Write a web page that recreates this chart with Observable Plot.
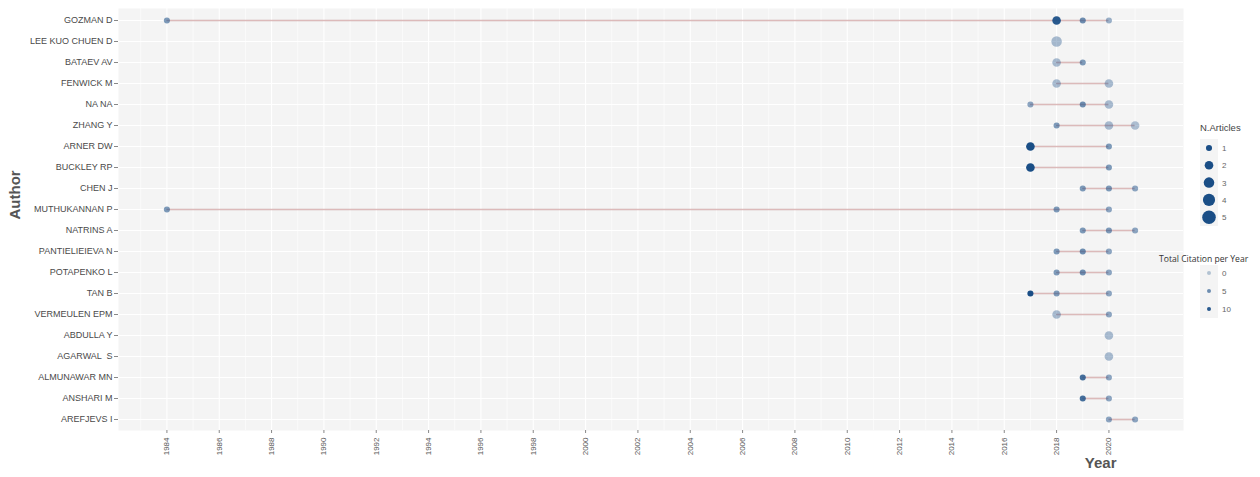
<!DOCTYPE html>
<html>
<head>
<meta charset="utf-8">
<script src="https://cdn.jsdelivr.net/npm/d3@7"></script>
<script src="https://cdn.jsdelivr.net/npm/@observablehq/plot@0.6"></script>
<style>
  html, body { margin: 0; padding: 0; background: #ffffff; }
  #wrap { position: relative; width: 1260px; height: 477px; }
  #legend { position: absolute; left: 0; top: 0; pointer-events: none; }
</style>
</head>
<body>
<div id="wrap"></div>
<script>
// ---- data ----
const authors = [
  "GOZMAN D", "LEE KUO CHUEN D", "BATAEV AV", "FENWICK M", "NA NA", "ZHANG Y",
  "ARNER DW", "BUCKLEY RP", "CHEN J", "MUTHUKANNAN P", "NATRINS A", "PANTIELIEIEVA N",
  "POTAPENKO L", "TAN B", "VERMEULEN EPM", "ABDULLA Y", "AGARWAL  S", "ALMUNAWAR MN",
  "ANSHARI M", "AREFJEVS I"
];
const pointAuthor = [
  "GOZMAN D", "GOZMAN D", "GOZMAN D", "GOZMAN D",
  "LEE KUO CHUEN D",
  "BATAEV AV", "BATAEV AV",
  "FENWICK M", "FENWICK M",
  "NA NA", "NA NA", "NA NA",
  "ZHANG Y", "ZHANG Y", "ZHANG Y",
  "ARNER DW", "ARNER DW",
  "BUCKLEY RP", "BUCKLEY RP",
  "CHEN J", "CHEN J", "CHEN J",
  "MUTHUKANNAN P", "MUTHUKANNAN P", "MUTHUKANNAN P",
  "NATRINS A", "NATRINS A", "NATRINS A",
  "PANTIELIEIEVA N", "PANTIELIEIEVA N", "PANTIELIEIEVA N",
  "POTAPENKO L", "POTAPENKO L", "POTAPENKO L",
  "TAN B", "TAN B", "TAN B",
  "VERMEULEN EPM", "VERMEULEN EPM",
  "ABDULLA Y",
  "AGARWAL  S",
  "ALMUNAWAR MN", "ALMUNAWAR MN",
  "ANSHARI M", "ANSHARI M",
  "AREFJEVS I", "AREFJEVS I"
];
const pointYear = [
  1984, 2018, 2019, 2020,
  2018,
  2018, 2019,
  2018, 2020,
  2017, 2019, 2020,
  2018, 2020, 2021,
  2017, 2020,
  2017, 2020,
  2019, 2020, 2021,
  1984, 2018, 2020,
  2019, 2020, 2021,
  2018, 2019, 2020,
  2018, 2019, 2020,
  2017, 2018, 2020,
  2018, 2020,
  2020,
  2020,
  2019, 2020,
  2019, 2020,
  2020, 2021
];
const pointArticles = [
  1, 2, 1, 1,
  3,
  2, 1,
  2, 2,
  1, 1, 2,
  1, 2, 2,
  2, 1,
  2, 1,
  1, 1, 1,
  1, 1, 1,
  1, 1, 1,
  1, 1, 1,
  1, 1, 1,
  1, 1, 1,
  2, 1,
  2,
  2,
  1, 1,
  1, 1,
  1, 1
];
const pointTCpY = [
  4, 10, 5, 2,
  1,
  1, 4,
  1, 1,
  3, 5, 1,
  4, 1, 0.5,
  11, 4,
  11, 4,
  4, 4, 3,
  4, 4, 3,
  4, 4, 3,
  4, 5, 3,
  4, 5, 3,
  11, 4, 3,
  1, 3,
  1,
  1,
  8, 3,
  8, 3,
  3, 3
];
const xTickYears = d3.range(1984, 2021, 2);
const minorYears = d3.range(1983, 2023, 2);
const sizeLegendValues = [1, 2, 3, 4, 5];
const tcLegendValues = [0, 5, 10];

// ---- build tables ----
const rows = pointAuthor.map((a, i) => ({author: a, year: pointYear[i], n: pointArticles[i], tc: pointTCpY[i]}));
const segments = d3.groups(rows, d => d.author).map(([a, v]) => ({
  author: a, start: d3.min(v, d => d.year), end: d3.max(v, d => d.year)
}));

const W = 1260, H = 477;
const chart = Plot.plot({
  width: W, height: H,
  marginLeft: 118, marginRight: 77, marginTop: 8, marginBottom: 47,
  style: {fontFamily: "'Liberation Sans', Arial, sans-serif", color: "#555", background: "white"},
  x: {domain: [1982.15, 2022.85], label: null},
  y: {type: "point", domain: authors, padding: 0.5, label: null},
  r: {domain: [0, 5], range: [0, 6.8]},
  opacity: {domain: [0, 11], range: [0.3, 1]},
  marks: [
    Plot.frame({fill: "#F4F4F4", stroke: null}),
    Plot.gridX(minorYears, {stroke: "white", strokeOpacity: 1, strokeWidth: 0.6}),
    Plot.gridX(xTickYears, {stroke: "white", strokeOpacity: 1, strokeWidth: 1.1}),
    Plot.gridY(authors, {stroke: "white", strokeOpacity: 1, strokeWidth: 1.1}),
    Plot.ruleY(segments, {y: "author", x1: "start", x2: "end", stroke: "#8B1A1A", strokeOpacity: 0.3, strokeWidth: 1.6}),
    Plot.dot(rows, {x: "year", y: "author", r: "n", fill: "#1A4E86", fillOpacity: "tc", stroke: null}),
    Plot.axisY({tickSize: 4, tickPadding: 2, fontSize: 9, fill: "#4a4a4a", stroke: "#888", label: null}),
    Plot.axisX(xTickYears, {tickSize: 3, tickPadding: 4, tickRotate: -90, fontSize: 8, fill: "#555", stroke: "#888", tickFormat: d => String(d), label: null}),
    Plot.text(["Author"], {frameAnchor: "left", dx: -103, text: d => d, rotate: -90, fontSize: 15, fontWeight: "bold", fill: "#555"}),
    Plot.text(["Year"], {frameAnchor: "bottom-right", dx: -67, dy: 37, text: d => d, fontSize: 15, fontWeight: "bold", fill: "#555"})
  ]
});

const wrap = document.getElementById("wrap");
wrap.appendChild(chart);

// ---- legends (drawn with the chart's own scales) ----
const rScale = chart.scale("r");
const oScale = chart.scale("opacity");
const svg = d3.select(wrap).append("svg").attr("id", "legend").attr("width", W).attr("height", H)
  .style("font-family", "'Liberation Sans', Arial, sans-serif");

// N.Articles
const g1 = svg.append("g");
g1.append("text").attr("x", 1200).attr("y", 131).attr("font-size", 9.5).attr("fill", "#444").text("N.Articles");
g1.append("rect").attr("x", 1200).attr("y", 139).attr("width", 18).attr("height", 87).attr("fill", "#F4F4F4");
sizeLegendValues.forEach((v, i) => {
  const cy = 148 + i * 17.3;
  g1.append("circle").attr("cx", 1209).attr("cy", cy).attr("r", rScale.apply(v)).attr("fill", "#1A4E86");
  g1.append("text").attr("x", 1222).attr("y", cy + 3).attr("font-size", 8).attr("fill", "#666").text(v);
});

// Total Citation per Year
const g2 = svg.append("g");
g2.append("text").attr("x", 1159).attr("y", 262).attr("font-size", 8.6).attr("fill", "#333")
  .attr("font-family", "'Open Sans', sans-serif").text("Total Citation per Year");
g2.append("rect").attr("x", 1200).attr("y", 265).attr("width", 18).attr("height", 53).attr("fill", "#F4F4F4");
tcLegendValues.forEach((v, i) => {
  const cy = 273 + i * 18;
  g2.append("circle").attr("cx", 1209).attr("cy", cy).attr("r", 2).attr("fill", "#1A4E86").attr("fill-opacity", oScale.apply(v));
  g2.append("text").attr("x", 1222).attr("y", cy + 3).attr("font-size", 8).attr("fill", "#666").text(v);
});
</script>
</body>
</html>
